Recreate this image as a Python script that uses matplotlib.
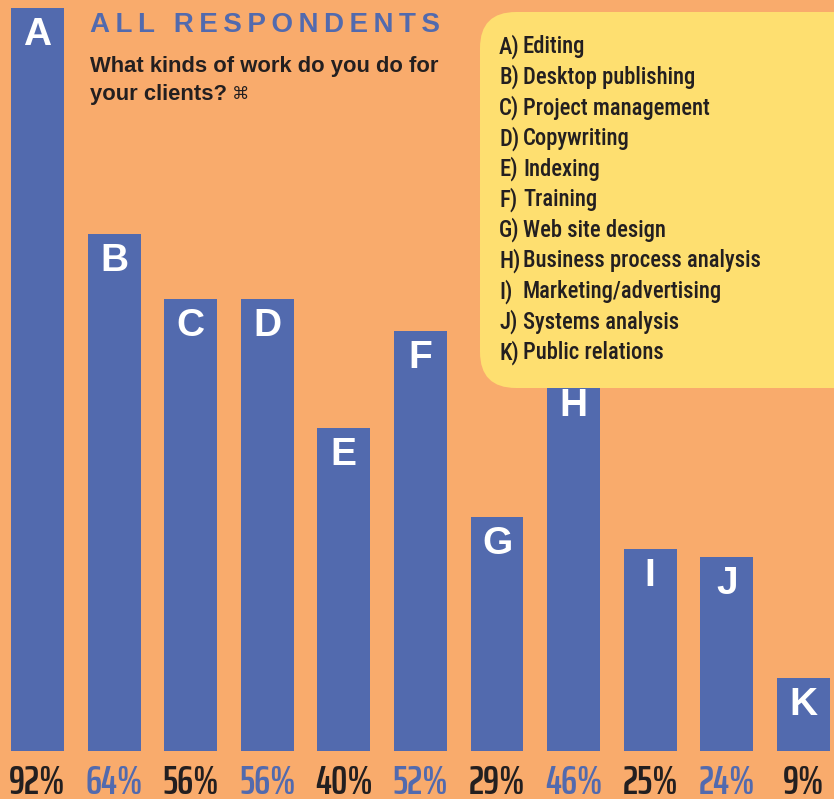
import numpy as np
import matplotlib
matplotlib.use("Agg")
import matplotlib.pyplot as plt
from matplotlib.patches import FancyBboxPatch
from matplotlib.transforms import IdentityTransform

# data
letters = ["A", "B", "C", "D", "E", "F", "G", "H", "I", "J", "K"]
work = ["Editing", "Desktop publishing", "Project management", "Copywriting",
        "Indexing", "Training", "Web site design", "Business process analysis",
        "Marketing/advertising", "Systems analysis", "Public relations"]
share = [92, 64, 56, 56, 40, 52, 29, 46, 25, 24, 9]

ORANGE = "#F9AB6C"
BLUE = "#526AAE"
YELLOW = "#FEDF70"
DARK = "#231F20"

HELV = ["Liberation Sans", "DejaVu Sans"]
COND = ["Roboto Condensed", "DejaVu Sans"]
TIGHT = ["Saira ExtraCondensed", "DejaVu Sans"]

W, H = 834, 799

def fy(px):
    # pixel row from the top -> figure fraction
    return 1 - px / H

fig = plt.figure(figsize=(W / 100, H / 100), dpi=100)
fig.patch.set_facecolor(ORANGE)

ax = fig.add_axes([0, 48 / H, 1, 743 / H])
ax.set_facecolor(ORANGE)
x = np.arange(len(share))
ax.bar(x, share, width=0.69, color=BLUE)
ax.set_xlim(-0.49, 10.40)
ax.set_ylim(0, 92)
ax.axis("off")

# letters inside bars, percentages below
for i, (l, v) in enumerate(zip(letters, share)):
    ax.annotate(l, (i, v), xytext=(0, -26.5), textcoords="offset points",
                ha="center", va="baseline", color="white", fontsize=28,
                fontweight="bold", family=HELV)
    ax.annotate(f"{v}%", (i, 0), xytext=(0, -31), textcoords="offset points",
                ha="center", va="baseline", fontsize=29.5, fontweight=600,
                family=TIGHT, color=DARK if i % 2 == 0 else BLUE,
                annotation_clip=False)

# titles
fig.text(90 / W, fy(32), "\u2009".join("ALL RESPONDENTS"), color=BLUE,
         fontsize=20, fontweight="bold", family=HELV, va="baseline")
fig.text(90 / W, fy(72), "What kinds of work do you do for", color=DARK,
         fontsize=15.8, fontweight="bold", family=HELV, va="baseline")
fig.text(90 / W, fy(100), "your clients?", color=DARK, fontsize=15.8,
         fontweight="bold", family=HELV, va="baseline")
fig.text(232 / W, fy(99), "\u2318", color=DARK, fontsize=12.5,
         family="DejaVu Sans", va="baseline")

# key box
box = FancyBboxPatch((480, H - 388), 420, 376,
                     boxstyle="round,pad=0,rounding_size=36",
                     transform=IdentityTransform(), facecolor=YELLOW,
                     edgecolor="none", zorder=1)
fig.patches.append(box)
for i, (l, w) in enumerate(zip(letters, work)):
    y = fy(53.3 + i * 30.6)
    fig.text(499 / W, y, l + ")", color=DARK, fontsize=16.3, fontweight=500,
             family=COND, va="baseline", zorder=2)
    fig.text(523 / W, y, w, color=DARK, fontsize=16.3, fontweight=500,
             family=COND, va="baseline", zorder=2)

fig.savefig("out.png", dpi=100, facecolor=ORANGE)
